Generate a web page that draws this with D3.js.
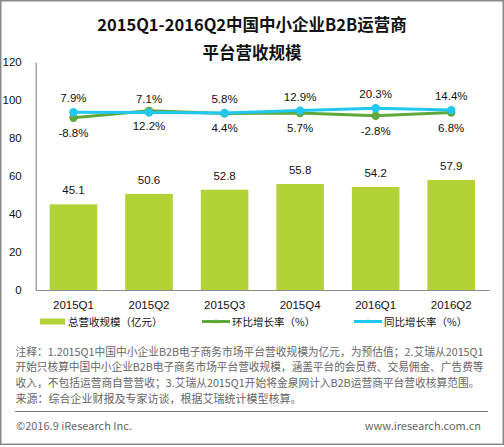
<!DOCTYPE html>
<html><head><meta charset="utf-8">
<script src="https://cdn.jsdelivr.net/npm/d3@7/dist/d3.min.js"></script>
<style>
html,body{margin:0;padding:0;background:#fff;}
svg{display:block;}
</style></head>
<body><svg id="c" width="504" height="447"></svg>
<script>
const categories = ["2015Q1","2015Q2","2015Q3","2015Q4","2016Q1","2016Q2"];
const revenue = [45.1, 50.6, 52.8, 55.8, 54.2, 57.9];
const qoq = [-8.8, 12.2, 4.4, 5.7, -2.8, 6.8];
const yoy = [7.9, 7.1, 5.8, 12.9, 20.3, 14.4];
const yTicks = [0, 20, 40, 60, 80, 100, 120];
const titleLines = ["2015Q1-2016Q2中国中小企业B2B运营商", "平台营收规模"];
const legendLabels = ["总营收规模（亿元）", "环比增长率（%）", "同比增长率（%）"];
const notes = [
 "注释：1.2015Q1中国中小企业B2B电子商务市场平台营收规模为亿元，为预估值；2.艾瑞从2015Q1",
 "开始只核算中国中小企业B2B电子商务市场平台营收规模，涵盖平台的会员费、交易佣金、广告费等",
 "收入，不包括运营商自营营收；3.艾瑞从2015Q1开始将金泉网计入B2B运营商平台营收核算范围。",
 "来源：综合企业财报及专家访谈，根据艾瑞统计模型核算。"
];
const noteWidths = [468, 468, 464, null];
const copyright = "©2016.9 iResearch Inc.";
const website = "www.iresearch.com.cn";

const BAR = "#b2d235", GREEN = "#5fa83c", CYAN = "#20c8f0", AX = "#8c8c8c";
const svg = d3.select("#c");
const cjk = "'Noto Sans CJK SC','Noto Sans',sans-serif";
const lat = "'Liberation Sans',Arial,sans-serif";

// frame
svg.append("rect").attr("x",0.75).attr("y",0.75).attr("width",502.5).attr("height",443.5)
  .attr("fill","none").attr("stroke","#8a8a8a").attr("stroke-width",1.5);

// title
svg.selectAll("text.title").data(titleLines).enter().append("text")
  .attr("x",252).attr("y",(d,i)=>31+i*28).attr("text-anchor","middle")
  .attr("font-family",cjk).attr("font-weight","bold").attr("font-size",16.5).attr("fill","#111")
  .text(d=>d);

const L=35.7, R=489, T=62, B=290;
const x = d3.scaleBand().domain(categories).range([L,R]).paddingInner(0.37).paddingOuter(0.185);
const y = d3.scaleLinear().domain([0,120]).range([B,T]);
const y2 = d3.scaleLinear().domain([-530,160]).range([B,T]);

// axes
const yAxis = d3.axisLeft(y).tickValues(yTicks).tickSize(0).tickPadding(14);
const gy = svg.append("g").attr("transform",`translate(${L},0)`).call(yAxis);
gy.select(".domain").attr("stroke",AX).attr("stroke-width",1.2);
gy.selectAll("text").attr("font-family",lat).attr("font-size",11.5).attr("fill","#111");

const xAxis = d3.axisBottom(x).tickSize(0).tickPadding(11);
const gx = svg.append("g").attr("transform",`translate(0,${B})`).call(xAxis);
gx.select(".domain").attr("stroke",AX).attr("stroke-width",1.2);
gx.selectAll("text").attr("font-family",lat).attr("font-size",11.5).attr("fill","#111");

// bars
svg.selectAll("rect.bar").data(revenue).enter().append("rect")
  .attr("x",(d,i)=>x(categories[i])).attr("width",x.bandwidth())
  .attr("y",d=>y(d)).attr("height",d=>B-y(d)).attr("fill",BAR);
svg.selectAll("text.bl").data(revenue).enter().append("text")
  .attr("x",(d,i)=>x(categories[i])+x.bandwidth()/2).attr("y",d=>y(d)-10)
  .attr("text-anchor","middle").attr("font-family",lat).attr("font-size",11.5).attr("fill","#111")
  .text(d=>d.toFixed(1));

// lines
const cx = i => x(categories[i])+x.bandwidth()/2;
function series(vals,color,above){
  const line = d3.line().x((d,i)=>cx(i)).y(d=>y2(d));
  svg.append("path").attr("d",line(vals)).attr("fill","none").attr("stroke",color).attr("stroke-width",3);
  svg.selectAll(null).data(vals).enter().append("circle")
    .attr("cx",(d,i)=>cx(i)).attr("cy",d=>y2(d)).attr("r",4.2).attr("fill",color);
  svg.selectAll(null).data(vals).enter().append("text")
    .attr("x",(d,i)=>cx(i)).attr("y",d=>above? y2(d)-10 : y2(d)+19)
    .attr("text-anchor","middle").attr("font-family",lat).attr("font-size",11.5).attr("fill","#111")
    .text(d=>d.toFixed(1)+"%");
}
series(qoq,GREEN,false);
series(yoy,CYAN,true);

// legend
const ly = 321.5;
svg.append("rect").attr("x",40).attr("y",ly-3).attr("width",25).attr("height",6).attr("fill",BAR);
svg.append("text").attr("x",68).attr("y",ly+4).attr("font-family",cjk).attr("font-size",10.5).attr("fill","#111").text(legendLabels[0]);
[[202,GREEN,legendLabels[1]],[354,CYAN,legendLabels[2]]].forEach(([lx,c,t])=>{
  svg.append("line").attr("x1",lx).attr("x2",lx+28).attr("y1",ly).attr("y2",ly).attr("stroke",c).attr("stroke-width",3);
  svg.append("circle").attr("cx",lx+14).attr("cy",ly).attr("r",2).attr("fill",c);
  svg.append("text").attr("x",lx+30).attr("y",ly+4).attr("font-family",cjk).attr("font-size",10.5).attr("fill","#111").text(t);
});

// notes
svg.selectAll("text.note").data(notes).enter().append("text")
  .attr("x",15.5).attr("y",(d,i)=>355.5+i*15.7)
  .attr("font-family",cjk).attr("font-size",11).attr("fill","#666")
  .each(function(d,i){ if(noteWidths[i]) d3.select(this).attr("textLength",noteWidths[i]).attr("lengthAdjust","spacingAndGlyphs"); })
  .text(d=>d);
svg.append("line").attr("x1",15).attr("x2",488).attr("y1",411.5).attr("y2",411.5).attr("stroke","#777").attr("stroke-width",1);
svg.append("text").attr("x",16).attr("y",430).attr("font-family",cjk).attr("font-size",11).attr("fill","#666").text(copyright);
svg.append("text").attr("x",481).attr("y",430).attr("text-anchor","end").attr("font-family",cjk).attr("font-size",11).attr("fill","#666").text(website);
</script></body></html>
